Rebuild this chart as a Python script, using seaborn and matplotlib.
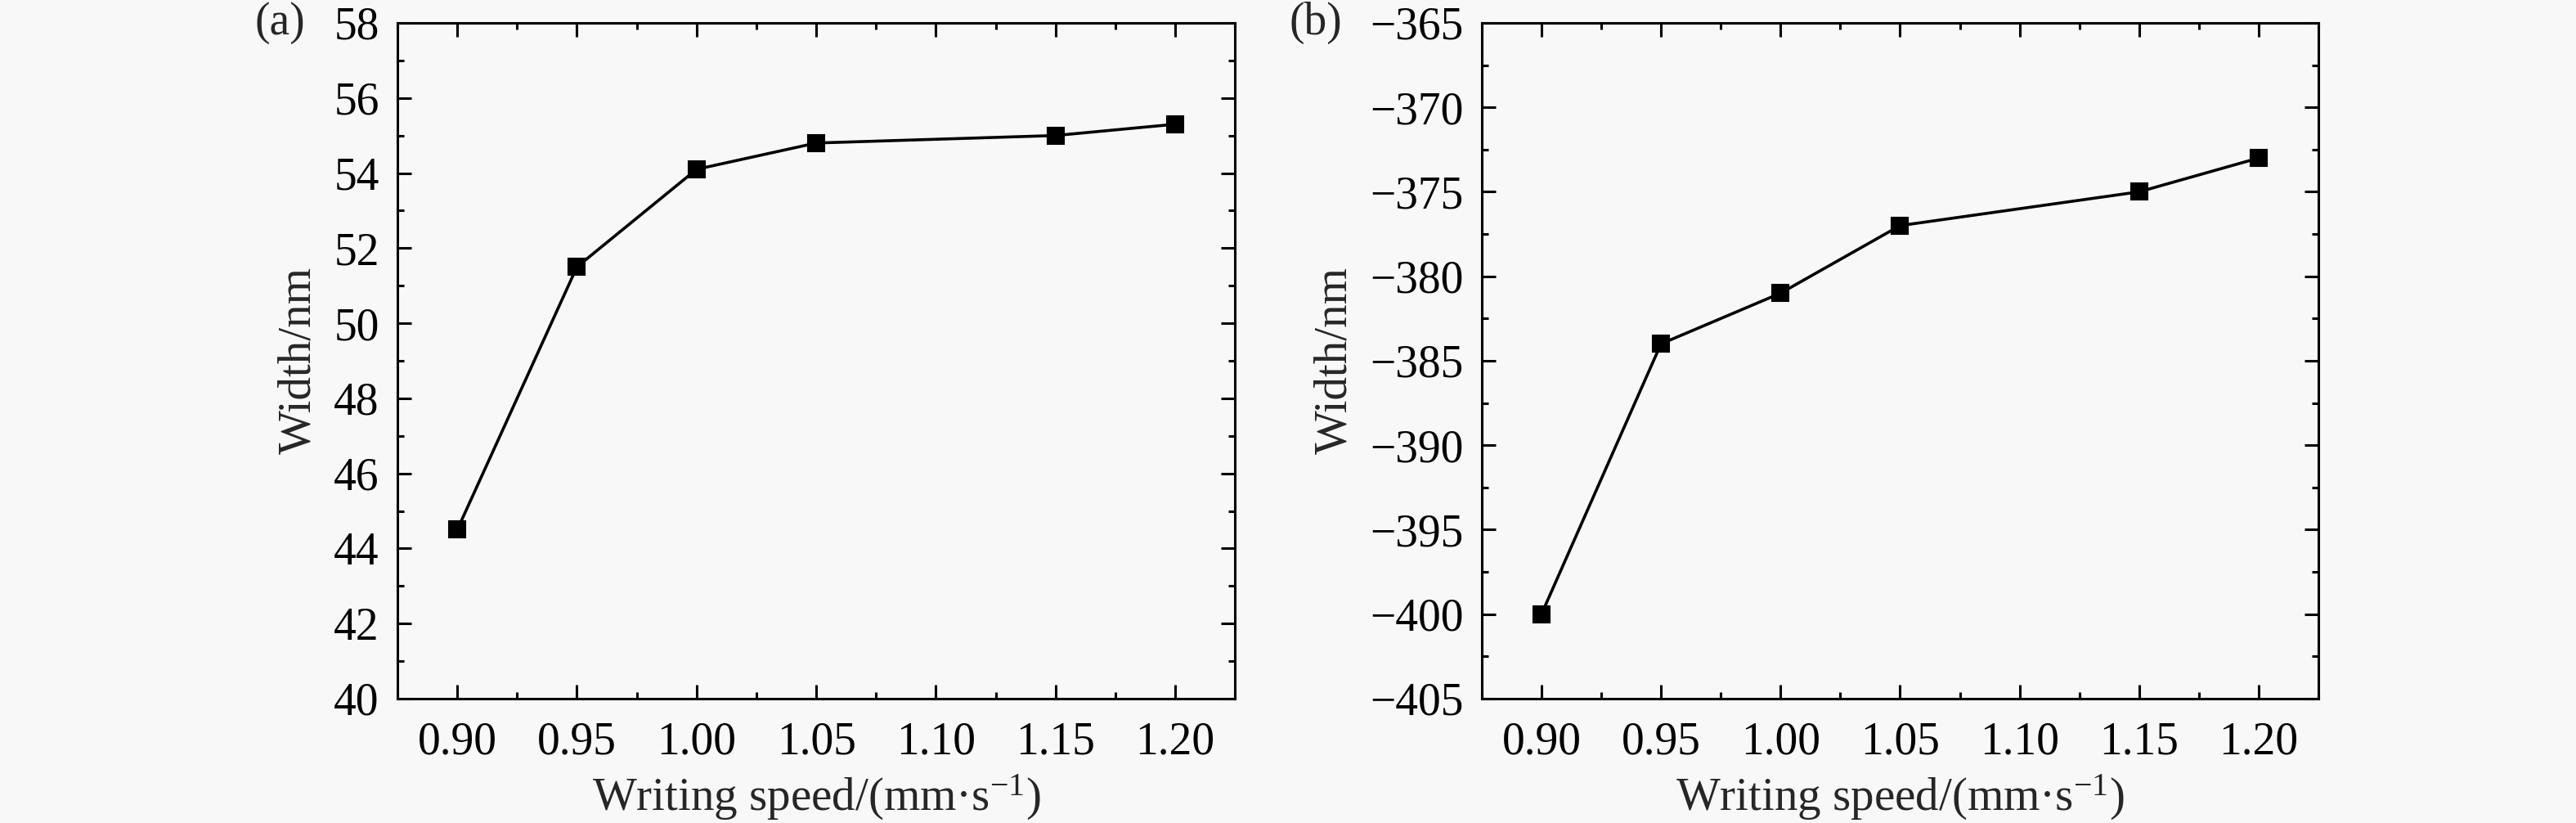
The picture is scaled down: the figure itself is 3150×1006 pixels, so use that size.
import numpy as np
import pandas as pd
import matplotlib
matplotlib.use('Agg')
import matplotlib.pyplot as plt
from matplotlib.ticker import MultipleLocator, AutoMinorLocator
import seaborn as sns

# Data
speed = [0.90, 0.95, 1.00, 1.05, 1.15, 1.20]
width_a = [44.5, 51.5, 54.1, 54.8, 55.0, 55.3]
width_b = [-400.0, -384.0, -381.0, -377.0, -375.0, -373.0]
x_ticks = [0.90, 0.95, 1.00, 1.05, 1.10, 1.15, 1.20]
panel_labels = ['(a)', '(b)']

BG = '#f8f8f8'

sns.set_theme(style='ticks')
plt.rcParams['font.family'] = ['Liberation Serif', 'DejaVu Serif']
plt.rcParams['mathtext.fontset'] = 'custom'
plt.rcParams['mathtext.rm'] = 'Liberation Serif'
plt.rcParams['mathtext.it'] = 'Liberation Serif:italic'
plt.rcParams['axes.unicode_minus'] = True

fig = plt.figure(figsize=(15.75, 5.03), dpi=200, facecolor=BG)
axA = fig.add_axes([0.1543, 0.1511, 0.3251, 0.8211])
axB = fig.add_axes([0.5752, 0.1511, 0.3248, 0.8211])

dfA = pd.DataFrame({'speed': speed, 'width': width_a})
dfB = pd.DataFrame({'speed': speed, 'width': width_b})

## Draw both panels
for ax, df, ylim, ystep, lab, labx in [
    (axA, dfA, (40, 58), 2, panel_labels[0], -0.17),
    (axB, dfB, (-405, -365), 5, panel_labels[1], -0.23),
]:
    ax.set_facecolor(BG)
    sns.lineplot(data=df, x='speed', y='width', ax=ax, color='black',
                 linewidth=1.3, marker='s', markersize=7,
                 markeredgecolor='black', markerfacecolor='black')
    ax.set_xlim(0.875, 1.225)
    ax.set_ylim(*ylim)
    ax.set_xticks(x_ticks)
    ax.set_xticklabels([f'{t:.2f}' for t in x_ticks])
    ax.yaxis.set_major_locator(MultipleLocator(ystep))
    ax.xaxis.set_minor_locator(AutoMinorLocator(2))
    ax.yaxis.set_minor_locator(AutoMinorLocator(2))
    ax.tick_params(which='both', direction='in', top=True, right=True,
                   labelsize=20, colors='black', width=1.1)
    ax.tick_params(which='major', length=6)
    ax.tick_params(which='minor', length=3)
    ax.tick_params(axis='x', which='major', pad=10)
    ax.tick_params(axis='y', which='major', pad=8)
    for spine in ('top', 'bottom', 'left', 'right'):
        ax.spines[spine].set_visible(True)
        ax.spines[spine].set_linewidth(1.1)
        ax.spines[spine].set_color('black')
    ax.set_xlabel('Writing speed/(mm·s$^{-1}$)', fontsize=20.5, labelpad=4)
    ax.set_ylabel('Width/nm', fontsize=20.5, labelpad=6)
    ax.text(labx, 1.0, lab, transform=ax.transAxes,
            fontsize=20, ha='left', va='center')

fig.savefig('out.png', dpi=200, facecolor=BG)
